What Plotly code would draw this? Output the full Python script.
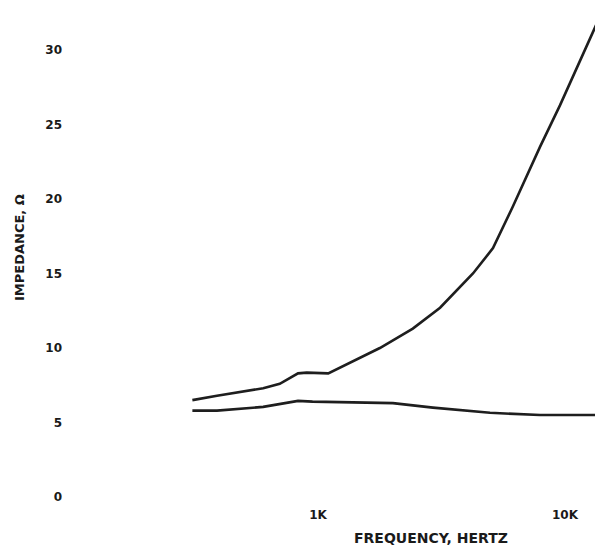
import plotly.graph_objects as go

# Upper impedance curve
upper_freq = [310, 390, 600, 700, 830, 900, 1100, 1780, 2420, 3120, 4240, 5110, 6150, 7920, 9550, 11500, 14250]
upper_imp = [6.5, 6.8, 7.3, 7.6, 8.3, 8.35, 8.3, 10.0, 11.3, 12.7, 15.0, 16.7, 19.5, 23.5, 26.3, 29.3, 32.7]

# Lower impedance curve
lower_freq = [310, 390, 600, 830, 950, 2010, 2920, 4010, 4970, 7920, 14250]
lower_imp = [5.8, 5.8, 6.05, 6.45, 6.4, 6.3, 6.0, 5.8, 5.65, 5.5, 5.5]

y_tickvals = [0, 5, 10, 15, 20, 25, 30]
x_tickvals = [1000, 10000]
x_ticktext = ["1K", "10K"]

line_style = dict(color="#1e1e1e", width=2.6)
font_fam = "DejaVu Sans, sans-serif"

fig = go.Figure()
fig.add_trace(go.Scatter(x=upper_freq, y=upper_imp, mode="lines", line=line_style,
                         showlegend=False, cliponaxis=False))
fig.add_trace(go.Scatter(x=lower_freq, y=lower_imp, mode="lines", line=line_style,
                         showlegend=False, cliponaxis=False))

# the page body adds an 8px offset, so the figure is 8px smaller each way
fig.update_layout(
    width=595, height=537,
    margin=dict(l=72, r=0, t=0, b=45),
    paper_bgcolor="white", plot_bgcolor="white",
    font=dict(family=font_fam, color="#1a1a1a"),
    xaxis=dict(
        type="log", range=[2.0364, 4.1538], automargin=False,
        tickvals=x_tickvals, ticktext=x_ticktext,
        showgrid=False, zeroline=False, showline=False,
        ticks="", ticklabelstandoff=6,
        tickfont=dict(size=12, family=font_fam, weight="bold"),
    ),
    yaxis=dict(
        range=[-0.201, 32.819], automargin=False,
        tickvals=y_tickvals,
        showgrid=False, zeroline=False, showline=False,
        ticks="", ticklabelstandoff=17,
        tickfont=dict(size=12, family=font_fam, weight="bold"),
    ),
    annotations=[
        dict(text="FREQUENCY, HERTZ", xref="paper", yref="paper",
             x=(431 - 80) / 523, y=0, yanchor="middle", xanchor="center",
             yshift=-38, showarrow=False,
             font=dict(size=14, family=font_fam, weight="bold")),
        dict(text="IMPEDANCE, Ω", xref="paper", yref="paper",
             x=0, y=(500 - 248) / 492, xanchor="center", yanchor="middle",
             xshift=-61, textangle=-90, showarrow=False,
             font=dict(size=13, family=font_fam, weight="bold")),
    ],
)

fig.write_html("out.html")
